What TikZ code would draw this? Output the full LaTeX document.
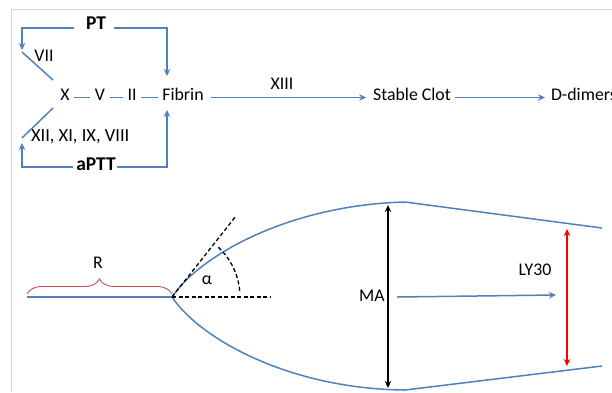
\documentclass[tikz,border=0pt]{standalone}
\usepackage{fontspec}
\setmainfont{Carlito}
\usetikzlibrary{arrows.meta,decorations.pathreplacing,calc}
\definecolor{lblue}{RGB}{79,129,189}
\definecolor{lred}{RGB}{192,80,77}
\definecolor{frame}{RGB}{215,215,215}
\tikzset{
  lbl/.style={inner sep=0pt, outer sep=0pt, text height=0.64em, text depth=0pt, font=\fontsize{17.8}{20}\selectfont},
  blbl/.style={lbl, font=\fontsize{19.5}{22}\selectfont\bfseries},
  bline/.style={draw=lblue, line width=1.5pt},
  barrow/.style={bline, -{Stealth[length=7pt,width=6.5pt]}},
  kdash/.style={draw=black, line width=1.3pt, dash pattern=on 4pt off 2.5pt},
}
\begin{document}
\begin{tikzpicture}[x=1pt,y=-1pt]
\useasboundingbox (0,0) rectangle (612,392);
\draw[frame, line width=1.2pt] (11.5,392) -- (11.5,9.5) -- (612,9.5);

% ---- top: coagulation cascade ----
\node[blbl] (pt) at (96,26.5) {PT};
\node[blbl] (aptt) at (96,167) {aPTT};
\node[lbl] (vii) at (44,58) {VII};
\node[lbl] (x) at (65,97.5) {X};
\node[lbl] (v) at (100,97.5) {V};
\node[lbl] (ii) at (132,97.5) {II};
\node[lbl] (fib) at (183,97.5) {Fibrin};
\node[lbl] (xiii) at (282,86) {XIII};
\node[lbl] (sc) at (412,97.5) {Stable Clot};
\node[lbl, anchor=west] (dd) at (551,97.5) {D-dimers};
\node[lbl, font=\fontsize{18.5}{21}\selectfont, anchor=west] (xii) at (31,138) {XII, XI, IX, VIII};

\coordinate (ptl) at (74,28);
\coordinate (ptr) at (114,28);
\coordinate (vtop) at (22,50);
\coordinate (ftop) at (167,76);
\coordinate (vii1) at (22,52);
\coordinate (vii2) at (53,80);
\coordinate (xii1) at (53,108);
\coordinate (xii2) at (22,138);
\coordinate (al) at (73,167);
\coordinate (ar) at (117,167);
\coordinate (xbot) at (22,143);
\coordinate (fbot) at (167,110);

\draw[barrow] (ptl) -| (vtop);
\draw[barrow] (ptr) -| (ftop);
\draw[barrow] (al) -| (xbot);
\draw[barrow] (ar) -| (fbot);
\draw[bline] (vii1) -- (vii2);
\draw[bline] (xii1) -- (xii2);
\draw[bline, shorten <=4.5pt, shorten >=4.5pt] (x.east) -- (v.west);
\draw[bline, shorten <=4.5pt, shorten >=4.5pt] (v.east) -- (ii.west);
\draw[bline, shorten <=4.5pt, shorten >=4.5pt] (ii.east) -- (fib.west);
\draw[barrow, shorten <=7pt, shorten >=7pt] (fib.east) -- (sc.west);
\draw[barrow, shorten <=4pt, shorten >=6pt] (sc.east) -- (dd.west);

% ---- bottom: TEG tracing ----
\coordinate (r0) at (27,297);
\coordinate (k) at (172,297);
\coordinate (top) at (405,202);
\coordinate (topr) at (602,228);
\coordinate (bot) at (405,390);
\coordinate (botr) at (602,366);
\coordinate (tan) at (236,216);
\coordinate (hor) at (270,297);

\draw[bline] (r0) -- (k);
\draw[bline] (k) .. controls (200,255) and (290,205) .. (top) -- (topr);
\draw[bline] (k) .. controls (200,339) and (290,389) .. (bot) -- (botr);
\draw[draw=lred, line width=0.9pt, decorate, decoration={brace, amplitude=15pt}] ($(r0)+(0,-3)$) -- ($(k)+(0,-3)$);
\node[lbl] (R) at (98,265) {R};
\draw[kdash] (k) -- (tan);
\draw[kdash] (k) -- (hor);
\draw[kdash] ($(k)+(-47:68)$) arc[start angle=-47, end angle=-5, radius=68];
\node[lbl] (alpha) at (207,281) {α};

\coordinate (ma1) at (388,205);
\coordinate (ma2) at (388,388);
\draw[black, line width=1.5pt, {Stealth[length=7pt,width=6.5pt]}-{Stealth[length=7pt,width=6.5pt]}] (ma1) -- (ma2);
\node[lbl] (ma) at (372,298) {MA};
\coordinate (ly1) at (397,297);
\coordinate (ly2) at (556,295);
\draw[barrow] (ly1) -- (ly2);
\node[lbl] (ly) at (535,272) {LY30};
\coordinate (rd1) at (567,229);
\coordinate (rd2) at (567,366);
\draw[red, line width=1.5pt, {Stealth[length=7pt,width=6.5pt]}-{Stealth[length=7pt,width=6.5pt]}] (rd1) -- (rd2);
\end{tikzpicture}
\end{document}
